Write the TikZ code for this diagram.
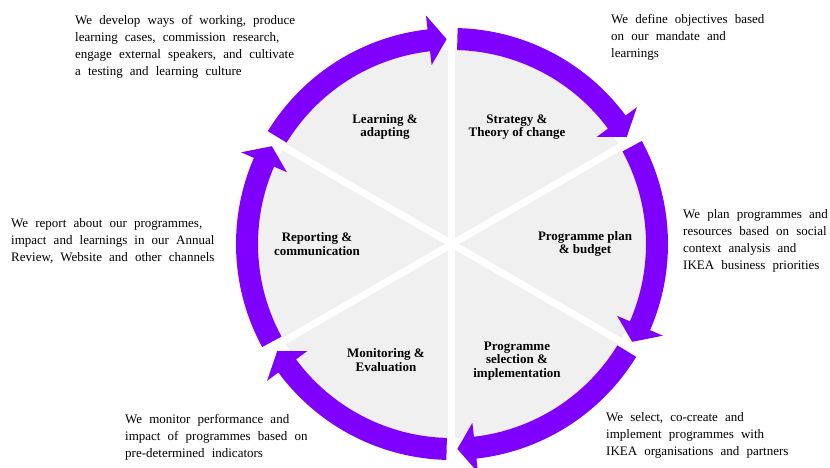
\documentclass[tikz,border=0pt]{standalone}
\usepackage{fontspec}
\setmainfont{Liberation Serif}
\usepackage{tikz}
\usetikzlibrary{positioning}
\definecolor{violetcycle}{RGB}{128,0,255}
\definecolor{griscycle}{RGB}{240,240,240}
\newcommand{\espacetexte}{\spaceskip=0.55em\relax}
\begin{document}
\begin{tikzpicture}[x=1pt,y=1pt]
% définition des paramètres
\tikzstyle secteurcycle=[fill=griscycle]
\tikzstyle separcycle=[white,line width=7pt]
\tikzstyle flechecycle=[fill=violetcycle]
\tikzstyle etapecycle=[font=\bfseries\fontsize{13}{13.4}\selectfont,align=center]
\tikzstyle textecycle=[font=\fontsize{13}{17}\selectfont\espacetexte,align=left,anchor=north west,inner sep=0pt]
\newcommand{\rayonint}{194}  % bord intérieur des flèches
\newcommand{\rayonext}{216}  % bord extérieur des flèches
\newcommand{\rayonmid}{205}  % rayon de la pointe
\newcommand{\pointeint}{180} % largeur de la tête
\newcommand{\pointeext}{230}
\useasboundingbox (-452,-223) rectangle (378,244);
% le disque et les séparations
\fill[secteurcycle] (0,0) circle (\rayonint);
\foreach \a in {90,30,-30}
    \draw[separcycle] (\a:\rayonint) -- (\a+180:\rayonint);
% les flèches
\foreach \s in {90,30,...,-210}
    \fill[flechecycle] (\s-1.5:\rayonext) arc[start angle=\s-1.5,end angle=\s-53.5,radius=\rayonext]
      -- (\s-53.5:\pointeext) -- (\s-58.5:\rayonmid) -- (\s-53.5:\pointeint)
      -- (\s-53.5:\rayonint) arc[start angle=\s-53.5,end angle=\s-1.5,radius=\rayonint] -- cycle;
% les étapes
\node[etapecycle] (apprentissage) at (-67,117) {Learning \&\\adapting};
\node[etapecycle] (strategie) at (65,117) {Strategy \&\\Theory of change};
\node[etapecycle] (plan) at (133,0) {Programme plan\\\& budget};
\node[etapecycle] (selection) at (65,-117) {Programme\\selection \&\\implementation};
\node[etapecycle] (suivi) at (-66,-116) {Monitoring \&\\Evaluation};
\node[etapecycle] (rapport) at (-135,0) {Reporting \&\\communication};
% les commentaires
\node[textecycle] (txtapprentissage) at (-377,229) {We develop ways of working, produce\\learning cases, commission research,\\engage external speakers, and cultivate\\a testing and learning culture};
\node[textecycle] (txtstrategie) at (159,230) {We define objectives based\\on our mandate and\\learnings};
\node[textecycle] (txtplan) at (231,35) {We plan programmes and\\resources based on social\\context analysis and\\IKEA business priorities};
\node[textecycle] (txtselection) at (154,-168) {We select, co-create and\\implement programmes with\\IKEA organisations and partners};
\node[textecycle] (txtsuivi) at (-327,-170) {We monitor performance and\\impact of programmes based on\\pre-determined indicators};
\node[textecycle] (txtrapport) at (-441,26) {We report about our programmes,\\impact and learnings in our Annual\\Review, Website and other channels};
\end{tikzpicture}
\end{document}
